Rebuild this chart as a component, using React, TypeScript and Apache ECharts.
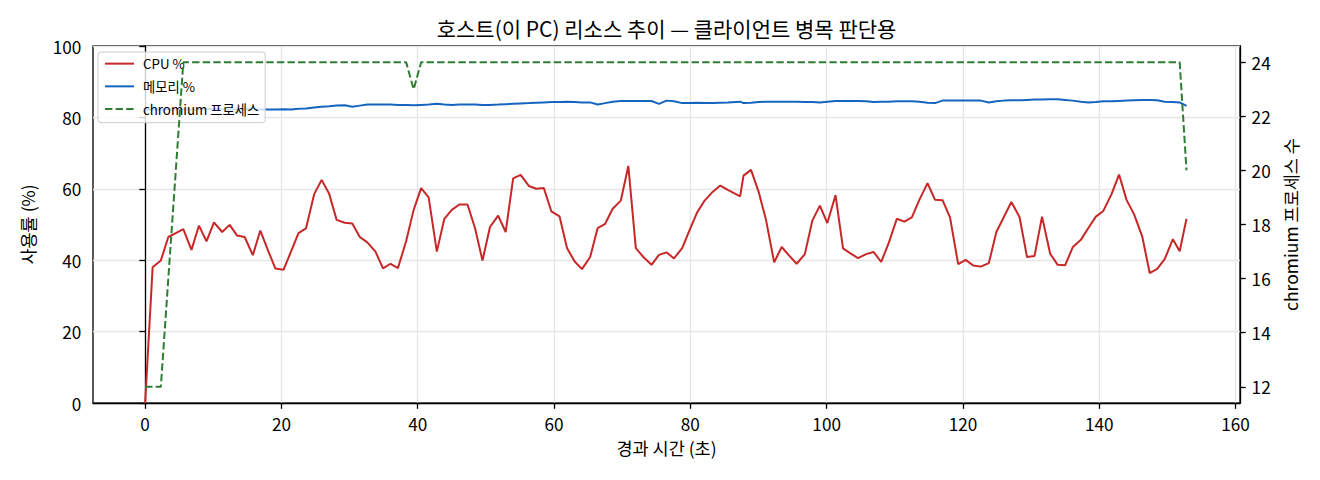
import React, { useEffect, useRef } from "react";
import * as echarts from "echarts";

const TITLE = "호스트(이 PC) 리소스 추이 — 클라이언트 병목 판단용";
const X_NAME = "경과 시간 (초)";
const Y_LEFT_NAME = "사용률 (%)";
const Y_RIGHT_NAME = "chromium 프로세스 수";
const SERIES_NAMES = ["CPU %", "메모리 %", "chromium 프로세스"];

const TIME_S = [
  0.0, 1.1, 2.3, 3.4, 4.5, 5.6, 6.8, 7.9, 9.0, 10.1,
  11.3, 12.4, 13.5, 14.6, 15.8, 16.9, 18.0, 19.1, 20.3, 21.4,
  22.5, 23.6, 24.8, 25.9, 27.0, 28.1, 29.3, 30.4, 31.5, 32.6,
  33.8, 34.9, 36.0, 37.1, 38.3, 39.4, 40.5, 41.6, 42.8, 43.9,
  45.0, 46.1, 47.3, 48.4, 49.5, 50.6, 51.8, 52.9, 54.0, 55.1,
  56.3, 57.4, 58.5, 59.6, 60.8, 61.9, 63.0, 64.1, 65.3, 66.4,
  67.5, 68.6, 69.8, 70.9, 72.0, 73.1, 74.3, 75.4, 76.5, 77.6,
  78.8, 79.9, 81.0, 82.1, 83.3, 84.4, 85.5, 87.3, 87.8, 88.9,
  90.0, 91.1, 92.3, 93.4, 94.5, 95.6, 96.8, 97.9, 99.0, 100.1,
  101.3, 102.4, 103.5, 104.6, 105.8, 106.9, 108.0, 109.1, 110.3, 111.4,
  112.5, 113.6, 114.8, 115.9, 117.0, 118.1, 119.3, 120.4, 121.5, 122.6,
  123.8, 124.9, 126.0, 127.1, 128.3, 129.4, 130.5, 131.6, 132.8, 133.9,
  135.0, 136.1, 137.3, 138.4, 139.5, 140.6, 141.8, 142.9, 144.0, 145.1,
  146.3, 147.4, 148.5, 149.6, 150.8, 151.8, 152.8,
];

const CPU_PCT = [
  0, 38.0, 39.9, 46.5, 47.6, 48.7, 42.9, 49.7, 45.3, 50.6,
  47.9, 49.9, 46.9, 46.5, 41.4, 48.3, 42.9, 37.7, 37.3, 42.4,
  47.6, 48.9, 58.5, 62.5, 58.6, 51.3, 50.5, 50.3, 46.5, 45.0,
  42.4, 37.7, 39.0, 37.8, 45.4, 54.1, 60.2, 57.6, 42.4, 51.6,
  54.1, 55.6, 55.6, 49.0, 39.9, 49.3, 52.5, 47.9, 62.9, 63.9,
  60.8, 60.0, 60.2, 53.7, 52.3, 43.4, 39.7, 37.5, 40.9, 49.0,
  50.2, 54.4, 56.7, 66.4, 43.4, 40.9, 38.7, 41.5, 42.2, 40.5,
  43.4, 48.5, 53.4, 56.7, 59.2, 60.9, 59.7, 57.9, 63.7, 65.3,
  59.3, 51.3, 39.4, 43.7, 41.3, 39.0, 41.7, 51.1, 55.3, 50.4,
  58.2, 43.3, 41.9, 40.6, 41.7, 42.3, 39.5, 44.8, 51.6, 50.8,
  52.0, 56.9, 61.6, 56.9, 56.8, 52.0, 38.9, 40.1, 38.5, 38.2,
  39.2, 47.9, 52.1, 56.3, 52.1, 40.9, 41.2, 52.2, 41.8, 38.7,
  38.6, 43.6, 45.7, 49.0, 52.2, 53.8, 58.5, 64.0, 56.9, 52.9,
  46.7, 36.4, 37.6, 40.3, 45.9, 42.5, 51.6,
];

const MEM_PCT = [
  82.1, 82.2, 82.3, 82.2, 82.3, 82.3, 82.2, 82.3, 82.4, 82.3,
  82.3, 82.2, 82.3, 82.3, 82.2, 82.2, 82.2, 82.2, 82.3, 82.2,
  82.4, 82.5, 82.8, 83.0, 83.1, 83.3, 83.4, 83.0, 83.3, 83.6,
  83.6, 83.6, 83.6, 83.5, 83.5, 83.4, 83.5, 83.6, 83.8, 83.6,
  83.5, 83.6, 83.6, 83.6, 83.5, 83.5, 83.6, 83.7, 83.8, 83.9,
  84.0, 84.1, 84.2, 84.3, 84.3, 84.4, 84.3, 84.2, 84.2, 83.6,
  84.0, 84.4, 84.6, 84.6, 84.6, 84.6, 84.6, 83.8, 84.7, 84.5,
  84.0, 84.0, 84.1, 84.0, 84.0, 84.1, 84.2, 84.4, 84.0, 84.1,
  84.3, 84.4, 84.4, 84.4, 84.4, 84.4, 84.3, 84.3, 84.2, 84.4,
  84.6, 84.6, 84.6, 84.6, 84.5, 84.3, 84.4, 84.4, 84.5, 84.5,
  84.5, 84.4, 84.1, 84.0, 84.7, 84.7, 84.7, 84.7, 84.7, 84.7,
  84.2, 84.5, 84.7, 84.8, 84.8, 84.9, 85.0, 85.0, 85.1, 85.1,
  84.9, 84.7, 84.4, 84.2, 84.3, 84.5, 84.5, 84.6, 84.7, 84.8,
  84.9, 84.9, 84.8, 84.4, 84.3, 84.2, 83.2,
];

const CHROMIUM_PROCS = [
  12, 12, 12, 16, 20, 24, 24, 24, 24, 24,
  24, 24, 24, 24, 24, 24, 24, 24, 24, 24,
  24, 24, 24, 24, 24, 24, 24, 24, 24, 24,
  24, 24, 24, 24, 24, 23, 24, 24, 24, 24,
  24, 24, 24, 24, 24, 24, 24, 24, 24, 24,
  24, 24, 24, 24, 24, 24, 24, 24, 24, 24,
  24, 24, 24, 24, 24, 24, 24, 24, 24, 24,
  24, 24, 24, 24, 24, 24, 24, 24, 24, 24,
  24, 24, 24, 24, 24, 24, 24, 24, 24, 24,
  24, 24, 24, 24, 24, 24, 24, 24, 24, 24,
  24, 24, 24, 24, 24, 24, 24, 24, 24, 24,
  24, 24, 24, 24, 24, 24, 24, 24, 24, 24,
  24, 24, 24, 24, 24, 24, 24, 24, 24, 24,
  24, 24, 24, 24, 24, 24, 20,
];

const X_TICKS = [0, 20, 40, 60, 80, 100, 120, 140, 160];
const Y_RIGHT_TICKS = [12, 14, 16, 18, 20, 22, 24];

const COLORS = ["#c62828", "#1565c0", "#2e7d32"];
const FONT = '"Noto Sans CJK KR", "Noto Sans", sans-serif';
const TICK_FS = 17.2;
const NAME_FS = 17.5;

export default function App() {
  const ref = useRef<HTMLDivElement>(null);

  useEffect(() => {
    if (!ref.current) return;
    const chart = echarts.init(ref.current, null, { renderer: "svg" });
    const pairs = (ys: number[]) => TIME_S.map((t, i) => [t, ys[i]]);
    const axisLineStyle = { color: "#000", width: 1.3 };

    chart.setOption({
      animation: false,
      backgroundColor: "#ffffff",
      textStyle: { fontFamily: FONT },
      graphic: [
        {
          type: "text",
          x: 666.5,
          y: 28,
          style: {
            text: TITLE,
            fontSize: 21,
            fontFamily: FONT,
            fill: "#000",
            textAlign: "center",
            textVerticalAlign: "middle",
          },
        },
      ],
      grid: {
        left: 93,
        right: 80,
        top: 46,
        bottom: 77,
        show: true,
        borderColor: "#000",
        borderWidth: 1.3,
        backgroundColor: "transparent",
      },
      legend: {
        left: 98,
        top: 52,
        orient: "vertical",
        itemWidth: 29,
        itemHeight: 14,
        itemGap: 9.4,
        padding: [5, 6, 7, 6],
        backgroundColor: "rgba(255,255,255,0.8)",
        borderColor: "#cccccc",
        borderWidth: 1,
        borderRadius: 3,
        z: 4,
        itemStyle: { opacity: 0, borderWidth: 0 },
        textStyle: {
          fontSize: 13.3,
          color: "#000",
          fontFamily: FONT,
          padding: [0, 0, 0, 4],
        },
        data: SERIES_NAMES,
      },
      xAxis: {
        type: "value",
        min: -7.65,
        max: 160.65,
        name: X_NAME,
        nameLocation: "middle",
        nameGap: 36,
        nameTextStyle: { fontSize: NAME_FS, color: "#000", fontFamily: FONT },
        axisLine: { show: true, lineStyle: axisLineStyle },
        axisTick: {
          show: true,
          length: 5.8,
          customValues: X_TICKS,
          lineStyle: axisLineStyle,
        },
        axisLabel: {
          customValues: X_TICKS,
          margin: 11.6,
          fontSize: TICK_FS,
          color: "#000",
          fontFamily: FONT,
        },
        splitLine: { show: true, lineStyle: { color: "#e6e6e6", width: 1.3 } },
      },
      yAxis: [
        {
          type: "value",
          position: "left",
          min: 0,
          max: 100,
          interval: 20,
          alignTicks: false,
          name: Y_LEFT_NAME,
          nameLocation: "middle",
          nameGap: 57,
          nameTextStyle: { fontSize: NAME_FS, color: "#000", fontFamily: FONT },
          axisLine: { show: true, lineStyle: axisLineStyle },
          axisTick: { show: true, length: 5.8, lineStyle: axisLineStyle },
          axisLabel: {
            margin: 11.6,
            fontSize: TICK_FS,
            color: "#000",
            fontFamily: FONT,
          },
          splitLine: { show: true, lineStyle: { color: "#e6e6e6", width: 1.3 } },
        },
        {
          type: "value",
          position: "right",
          min: 11.4,
          max: 24.6,
          alignTicks: false,
          name: Y_RIGHT_NAME,
          nameLocation: "middle",
          nameGap: 42,
          nameTextStyle: { fontSize: NAME_FS, color: "#000", fontFamily: FONT },
          axisLine: { show: true, lineStyle: axisLineStyle },
          axisTick: {
            show: true,
            length: 5.8,
            customValues: Y_RIGHT_TICKS,
            lineStyle: axisLineStyle,
          },
          axisLabel: {
            customValues: Y_RIGHT_TICKS,
            margin: 11.6,
            fontSize: TICK_FS,
            color: "#000",
            fontFamily: FONT,
          },
          splitLine: { show: false },
        },
      ],
      series: [
        {
          name: SERIES_NAMES[0],
          type: "line",
          yAxisIndex: 0,
          data: pairs(CPU_PCT),
          symbol: "none",
          showSymbol: false,
          z: 2,
          itemStyle: { color: COLORS[0] },
          lineStyle: { color: COLORS[0], width: 2 },
        },
        {
          name: SERIES_NAMES[1],
          type: "line",
          yAxisIndex: 0,
          data: pairs(MEM_PCT),
          symbol: "none",
          showSymbol: false,
          z: 2,
          itemStyle: { color: COLORS[1] },
          lineStyle: { color: COLORS[1], width: 2 },
        },
        {
          name: SERIES_NAMES[2],
          type: "line",
          yAxisIndex: 1,
          data: pairs(CHROMIUM_PROCS),
          symbol: "none",
          showSymbol: false,
          z: 6,
          itemStyle: { color: COLORS[2] },
          lineStyle: { color: COLORS[2], width: 2, type: [7.4, 3.2] },
        },
      ],
    });

    return () => chart.dispose();
  }, []);

  return (
    <div
      ref={ref}
      style={{
        position: "fixed",
        left: 0,
        top: 0,
        width: 1320,
        height: 480,
        background: "#fff",
      }}
    />
  );
}
